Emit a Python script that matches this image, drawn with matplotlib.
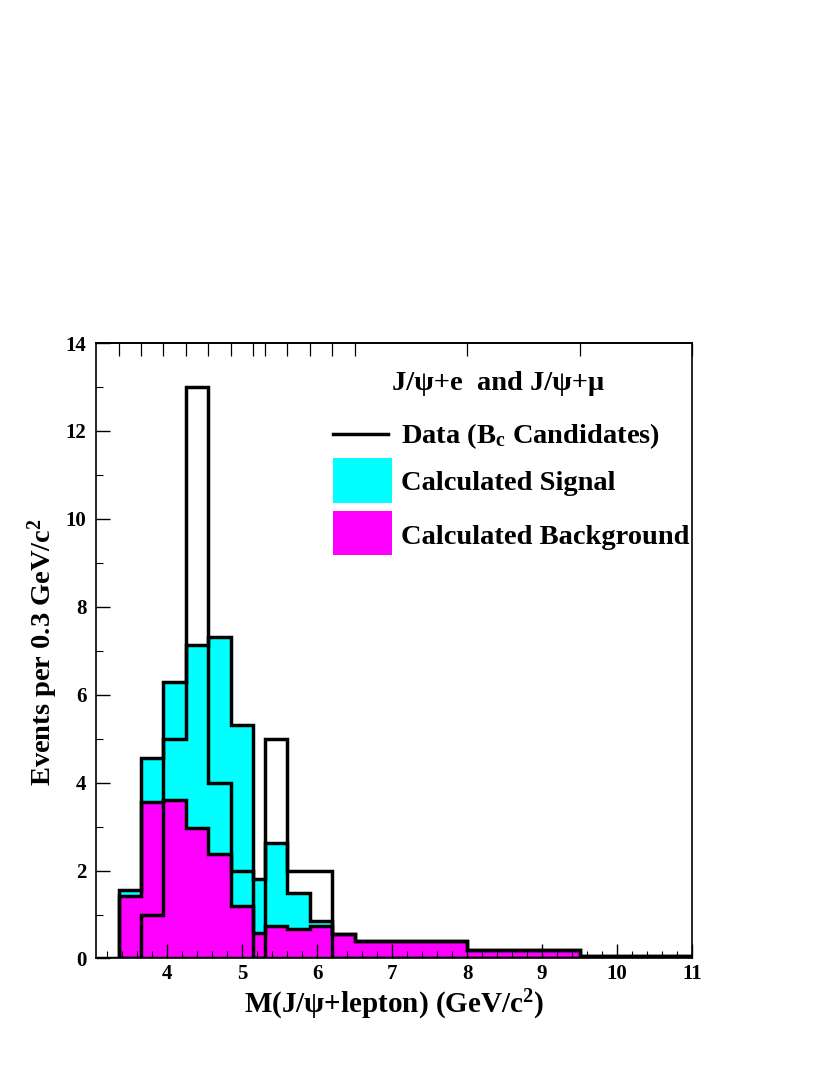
import matplotlib
matplotlib.use("Agg")
import matplotlib.pyplot as plt
from matplotlib.patches import Rectangle
from matplotlib.lines import Line2D
import numpy as np

# ---------------- data ----------------
bin_edges = [3.35, 3.65, 3.95, 4.25, 4.55, 4.85, 5.15, 5.3, 5.6, 5.9, 6.2, 6.5, 8.0, 9.5, 11.0]
background = [1.42, 3.56, 3.60, 2.97, 2.37, 1.20, 0.58, 0.73, 0.67, 0.75, 0.55, 0.39, 0.19, 0.06]
signal = [0.13, 1.00, 2.70, 4.17, 4.94, 4.12, 1.22, 1.90, 0.82, 0.10, 0.00, 0.00, 0.00, 0.00]
data_counts = [0, 1, 5, 13, 4, 2, 0, 5, 2, 2, 0, 0, 0, 0]

x_major_ticks = [4, 5, 6, 7, 8, 9, 10, 11]
y_major_ticks = [0, 2, 4, 6, 8, 10, 12, 14]

xlabel = r"M(J/ψ+lepton) (GeV/c$^{2}$)"
ylabel = r"Events per 0.3 GeV/c$^{2}$"
legend_title = "J/ψ+e  and J/ψ+μ"
legend_labels = [r"Data (B$_{\mathrm{c}}$ Candidates)", "Calculated Signal", "Calculated Background"]

CYAN = "#00FFFF"
MAGENTA = "#FF00FF"

# ---------------- style ----------------
plt.rcParams["font.family"] = ["Liberation Serif", "DejaVu Serif"]
plt.rcParams["font.weight"] = "bold"
plt.rcParams["mathtext.fontset"] = "custom"
plt.rcParams["mathtext.rm"] = "Liberation Serif:bold"
plt.rcParams["mathtext.it"] = "Liberation Serif:bold:italic"
plt.rcParams["mathtext.bf"] = "Liberation Serif:bold"

fig = plt.figure(figsize=(8.3, 10.75), dpi=100)
ax = fig.add_axes([0.1157, 0.1084, 0.718, 0.5725])

edges = np.array(bin_edges)
bg = np.array(background)
total = bg + np.array(signal)
dat = np.array(data_counts)

LW = 2.5
# fills
ax.stairs(total, edges, fill=True, color=CYAN, lw=0, zorder=1)
ax.stairs(bg, edges, fill=True, color=MAGENTA, lw=0, zorder=1.1)
# outlines
ax.stairs(total, edges, fill=False, color="black", lw=LW, zorder=2)
ax.stairs(bg, edges, fill=False, color="black", lw=LW, zorder=2.1)
ax.stairs(dat, edges, fill=False, color="black", lw=LW, zorder=2.2)
ax.axhline(0, color="black", lw=LW, zorder=2.2)

ax.set_xlim(3.05, 11.0)
ax.set_ylim(0, 14)

ax.set_xticks(x_major_ticks)
ax.set_xticks(np.arange(3.2, 11.0, 0.2), minor=True)
ax.set_yticks(y_major_ticks)
ax.set_yticks(np.arange(0, 14.01, 1), minor=True)
ax.tick_params(axis="both", which="major", direction="in", length=10, width=1,
               labelsize=15, top=False, right=False)
ax.tick_params(axis="both", which="minor", direction="in", length=5, width=0.8,
               top=False, right=False)
ax.tick_params(axis="x", which="major", pad=4)
ax.tick_params(axis="y", which="major", pad=7)
for lab in ax.get_xticklabels() + ax.get_yticklabels():
    lab.set_fontweight("bold")
for sp in ax.spines.values():
    sp.set_linewidth(1.2)

# top ticks at the bin edges
sec = ax.secondary_xaxis("top")
sec.set_xticks(bin_edges)
sec.set_xticklabels([])
sec.tick_params(direction="in", length=9, width=0.9)
sec.spines["top"].set_linewidth(1.2)

ax.set_xlabel(xlabel, fontsize=21, fontweight="bold")
ax.set_ylabel(ylabel, fontsize=20.5, fontweight="bold")
ax.xaxis.set_label_coords(0.50, -0.048)
ax.yaxis.set_label_coords(-0.061, 0.498)

# legend drawn by hand
T = ax.transAxes
ax.text(0.497, 0.934, legend_title, transform=T, fontsize=20.5, fontweight="bold",
        va="center", ha="left")
ax.add_line(Line2D([0.398, 0.490], [0.852, 0.852], transform=T, color="black", lw=LW))
ax.add_patch(Rectangle((0.398, 0.740), 0.099, 0.073, transform=T, facecolor=CYAN,
                       edgecolor="none"))
ax.add_patch(Rectangle((0.398, 0.6556), 0.099, 0.0714, transform=T, facecolor=MAGENTA,
                       edgecolor="none"))
ax.text(0.512, 0.849, legend_labels[0], transform=T, fontsize=20.5, fontweight="bold",
        va="center", ha="left")
ax.text(0.512, 0.771, legend_labels[1], transform=T, fontsize=20.5, fontweight="bold",
        va="center", ha="left")
ax.text(0.512, 0.684, legend_labels[2], transform=T, fontsize=20.5, fontweight="bold",
        va="center", ha="left")

fig.savefig("out.png", dpi=100)
